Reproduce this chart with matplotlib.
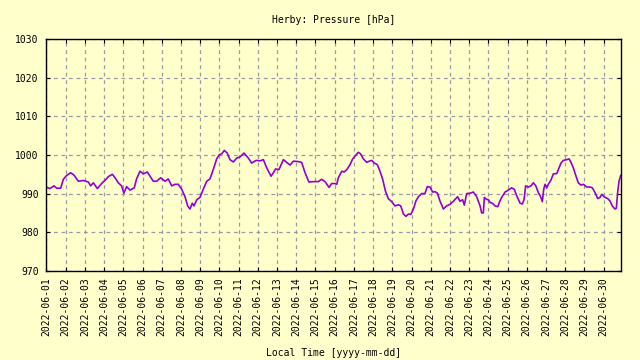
import datetime as dt
import matplotlib
matplotlib.use("Agg")
import matplotlib.pyplot as plt
import matplotlib.dates as mdates

# time offsets in days from 2022-06-01 00:00 (local time)
days = [
    -0.04, 0.18, 0.39, 0.53, 0.74, 0.88, 1.05, 1.26, 1.43, 1.66, 1.92, 2.18, 2.30, 2.44,
    2.65, 2.87, 3.10, 3.22, 3.43, 3.57, 3.74, 3.91, 4.03, 4.17, 4.35, 4.57, 4.69, 4.87,
    5.04, 5.25, 5.56, 5.74, 5.94, 6.17, 6.34, 6.52, 6.69, 6.86, 7.04, 7.21,
    7.35, 7.47, 7.59, 7.68, 7.82, 7.99, 8.16, 8.34, 8.51, 8.68, 8.86, 9.00, 9.12, 9.26,
    9.41, 9.55, 9.73, 9.90, 10.07, 10.28, 10.51, 10.68, 10.91, 11.12, 11.29, 11.46,
    11.69, 11.81, 11.93, 12.10, 12.33, 12.50, 12.68, 12.85, 13.11, 13.28, 13.46, 13.66,
    13.89, 14.15, 14.32, 14.50, 14.71, 14.84,
    15.02, 15.11, 15.19, 15.37, 15.49, 15.63, 15.80, 15.94, 16.06, 16.23, 16.35, 16.49,
    16.67, 16.80, 16.93, 17.07, 17.22, 17.36, 17.50, 17.64, 17.79, 17.97, 18.14, 18.32,
    18.44, 18.58, 18.71, 18.84, 18.96, 19.10, 19.23, 19.36, 19.53, 19.70, 19.82, 19.96,
    20.10, 20.22, 20.35, 20.48, 20.66, 20.83, 21.00, 21.18, 21.40, 21.52, 21.66, 21.75,
    21.87, 22.05, 22.22, 22.39, 22.57,
    22.65, 22.74, 22.79, 22.91, 23.00, 23.09, 23.21, 23.35, 23.49, 23.57, 23.69, 23.87,
    24.04, 24.21, 24.35, 24.48, 24.65, 24.77, 24.86, 24.94, 25.08, 25.22, 25.34, 25.46,
    25.60, 25.72, 25.81, 25.88, 25.95, 26.04, 26.12, 26.26, 26.38, 26.56, 26.68, 26.78,
    26.90, 27.08, 27.20, 27.30, 27.42, 27.55, 27.68, 27.82, 27.95, 28.12, 28.29, 28.41,
    28.55, 28.69, 28.81, 28.90, 29.04, 29.21, 29.33, 29.45, 29.59, 29.66, 29.73, 29.80,
    29.89,
]

pressure = [
    991.7, 991.3, 992.0, 991.4, 991.4, 993.7, 994.7, 995.4, 994.8, 993.2, 993.4, 993.0, 992.0, 992.8,
    991.3, 992.6, 993.7, 994.4, 995.0, 994.1, 992.8, 992.0, 990.1, 991.8, 990.9, 991.5, 993.8, 995.8,
    995.1, 995.6, 993.2, 993.2, 994.1, 993.2, 993.8, 992.0, 992.4, 992.4, 991.1, 989.2,
    986.8, 986.0, 987.5, 986.8, 988.4, 989.0, 991.1, 993.2, 993.8, 996.2, 999.0, 1000.1, 1000.3, 1001.2,
    1000.5, 998.8, 998.2, 999.2, 999.5, 1000.5, 999.2, 997.9, 998.6, 998.5, 998.8, 996.7,
    994.5, 995.4, 996.4, 996.2, 998.8, 998.1, 997.4, 998.4, 998.3, 998.1, 995.4, 993.0,
    993.1, 993.1, 993.7, 993.1, 991.6, 992.6,
    992.6, 992.4, 994.1, 995.8, 995.6, 996.2, 997.5, 999.0, 999.7, 1000.7, 1000.3, 999.0,
    998.1, 998.4, 998.6, 997.9, 997.5, 995.8, 993.7, 990.7, 988.7, 987.9, 986.8, 987.1,
    986.8, 984.7, 984.1, 984.7, 984.6, 986.0, 988.1, 989.2, 990.0, 990.0, 991.8, 991.7,
    990.4, 990.5, 990.1, 988.1, 986.0, 986.8, 987.2, 988.0, 989.2, 988.0, 988.4, 987.0,
    990.0, 990.1, 990.4, 989.2, 986.8,
    985.0, 985.0, 989.0, 988.5, 988.4, 987.7, 987.5, 986.8, 986.6, 987.7, 989.0, 990.4,
    990.9, 991.5, 991.1, 989.4, 987.5, 987.3, 988.5, 992.0, 991.7, 992.0, 992.8, 992.1,
    990.3, 989.2, 987.9, 991.1, 992.4, 991.5, 992.4, 993.5, 995.1, 995.2, 996.7, 997.9,
    998.6, 998.8, 999.0, 998.1, 996.7, 994.7, 992.8, 992.2, 992.4, 991.7, 991.7, 991.5,
    990.3, 988.7, 989.0, 989.8, 989.1, 988.7, 988.1, 986.8, 986.0, 986.2, 990.3, 993.2,
    994.7,
]

start = dt.datetime(2022, 6, 1)
times = [start + dt.timedelta(days=d) for d in days]

bg = "#ffffcc"
mono = "DejaVu Sans Mono"

fig = plt.figure(figsize=(6.4, 3.6), dpi=100, facecolor=bg)
ax = fig.add_axes([0.0711, 0.248, 0.8997, 0.6428], facecolor=bg)

ax.plot(times, pressure, color="#9400d3", linewidth=1.2)

ax.set_xlim(start + dt.timedelta(days=-0.05), start + dt.timedelta(days=29.92))
ax.set_ylim(970, 1030)
ax.set_yticks([970, 980, 990, 1000, 1010, 1020, 1030])

ax.xaxis.set_major_locator(mdates.DayLocator())
ax.xaxis.set_major_formatter(mdates.DateFormatter("%Y-%m-%d"))

ax.grid(True, color="#9a9aa6", linestyle=(0, (3, 3)), linewidth=0.9)
ax.tick_params(direction="in", length=3, width=0.8, top=True, right=True,
               labelsize=7, pad=5)
ax.tick_params(axis="x", labelrotation=90)
for lab in ax.get_xticklabels() + ax.get_yticklabels():
    lab.set_family(mono)
for sp in ax.spines.values():
    sp.set_linewidth(1.0)
    sp.set_color("black")

ax.set_title("Herby: Pressure [hPa]", fontsize=7, family=mono, pad=12)
ax.set_xlabel("Local Time [yyyy-mm-dd]", fontsize=7, family=mono, labelpad=8)

fig.savefig("out.png", dpi=100, facecolor=bg)
